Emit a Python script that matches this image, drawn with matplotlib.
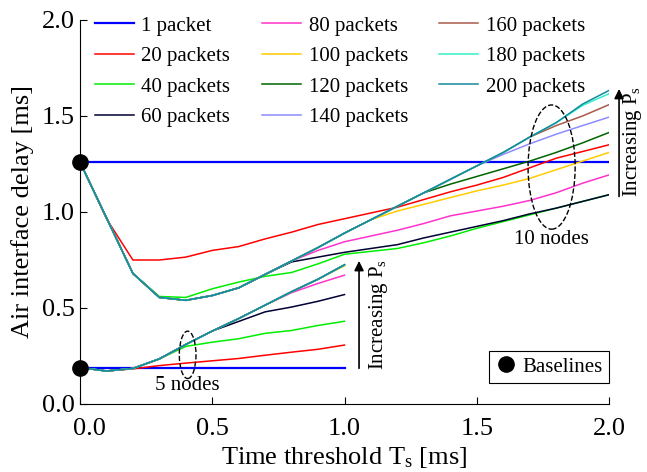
import matplotlib
matplotlib.use("Agg")
import matplotlib.pyplot as plt
import matplotlib.transforms as mtransforms
from matplotlib.patches import Ellipse
from matplotlib.lines import Line2D

plt.rcParams['font.family'] = ['Liberation Serif', 'DejaVu Serif']
plt.rcParams['mathtext.fontset'] = 'custom'
plt.rcParams['mathtext.rm'] = 'Liberation Serif'
plt.rcParams['mathtext.it'] = 'Liberation Serif:italic'

labels = ['1 packet', '20 packets', '40 packets', '60 packets', '80 packets',
          '100 packets', '120 packets', '140 packets', '160 packets',
          '180 packets', '200 packets']
colors = ['#0000FF', '#FF0000', '#00EE00', '#000033', '#FF33CC', '#FFCC00',
          '#006400', '#8C8CFF', '#A85A4A', '#33F0C8', '#138A9E']

x10 = [0.0, 0.1, 0.2, 0.3, 0.4, 0.5, 0.6, 0.7, 0.8, 0.9, 1.0,
       1.1, 1.2, 1.3, 1.4, 1.5, 1.6, 1.7, 1.8, 1.9, 2.0]
x5 = [0.0, 0.1, 0.2, 0.3, 0.4, 0.5, 0.6, 0.7, 0.8, 0.9, 1.0]

# 10 nodes
n10_p1 = [1.26, 1.26, 1.26, 1.26, 1.26, 1.26, 1.26, 1.26, 1.26, 1.26, 1.26,
          1.26, 1.26, 1.26, 1.26, 1.26, 1.26, 1.26, 1.26, 1.26, 1.26]
n10_p20 = [1.26, 0.965, 0.75, 0.75, 0.765, 0.80, 0.82, 0.86, 0.895, 0.935, 0.965,
           0.995, 1.025, 1.065, 1.105, 1.14, 1.18, 1.23, 1.28, 1.315, 1.35]
n10_p40 = [1.26, 0.97, 0.68, 0.56, 0.555, 0.60, 0.635, 0.665, 0.685, 0.73, 0.78,
           0.795, 0.81, 0.84, 0.875, 0.915, 0.95, 0.985, 1.02, 1.055, 1.09]
n10_p60 = [1.26, 0.97, 0.68, 0.555, 0.54, 0.565, 0.605, 0.675, 0.74, 0.765, 0.79,
           0.81, 0.83, 0.865, 0.895, 0.925, 0.955, 0.99, 1.02, 1.055, 1.09]
n10_p80 = [1.26, 0.97, 0.68, 0.555, 0.54, 0.565, 0.605, 0.675, 0.745, 0.80, 0.845,
           0.875, 0.905, 0.94, 0.98, 1.005, 1.03, 1.06, 1.10, 1.15, 1.193]
n10_p100 = [1.26, 0.97, 0.68, 0.555, 0.54, 0.565, 0.605, 0.675, 0.745, 0.815, 0.89,
            0.96, 1.005, 1.04, 1.075, 1.11, 1.14, 1.175, 1.22, 1.265, 1.31]
n10_p120 = [1.26, 0.97, 0.68, 0.555, 0.54, 0.565, 0.605, 0.675, 0.745, 0.815, 0.89,
            0.96, 1.03, 1.10, 1.145, 1.185, 1.225, 1.265, 1.31, 1.36, 1.414]
n10_p140 = [1.26, 0.97, 0.68, 0.555, 0.54, 0.565, 0.605, 0.675, 0.745, 0.815, 0.89,
            0.96, 1.03, 1.10, 1.17, 1.24, 1.30, 1.355, 1.405, 1.45, 1.494]
n10_p160 = [1.26, 0.97, 0.68, 0.555, 0.54, 0.565, 0.605, 0.675, 0.745, 0.815, 0.89,
            0.96, 1.03, 1.10, 1.17, 1.24, 1.31, 1.39, 1.45, 1.50, 1.559]
n10_p180 = [1.26, 0.97, 0.68, 0.555, 0.54, 0.565, 0.605, 0.675, 0.745, 0.815, 0.89,
            0.96, 1.03, 1.10, 1.17, 1.24, 1.31, 1.39, 1.465, 1.555, 1.616]
n10_p200 = [1.26, 0.97, 0.68, 0.555, 0.54, 0.565, 0.605, 0.675, 0.745, 0.815, 0.89,
            0.96, 1.03, 1.10, 1.17, 1.24, 1.31, 1.39, 1.465, 1.562, 1.633]

# 5 nodes
n5_p1 = [0.19, 0.19, 0.19, 0.19, 0.19, 0.19, 0.19, 0.19, 0.19, 0.19, 0.19]
n5_p20 = [0.19, 0.172, 0.183, 0.20, 0.213, 0.225, 0.237, 0.254, 0.27, 0.285, 0.307]
n5_p40 = [0.19, 0.172, 0.185, 0.235, 0.30, 0.322, 0.34, 0.368, 0.383, 0.409, 0.431]
n5_p60 = [0.19, 0.172, 0.185, 0.235, 0.31, 0.38, 0.43, 0.48, 0.505, 0.535, 0.57]
n5_p80 = [0.19, 0.172, 0.185, 0.235, 0.31, 0.38, 0.445, 0.515, 0.58, 0.628, 0.671]
n5_p100 = [0.19, 0.172, 0.185, 0.235, 0.31, 0.38, 0.445, 0.515, 0.585, 0.65, 0.72]
n5_p120 = [0.19, 0.172, 0.185, 0.235, 0.31, 0.38, 0.445, 0.515, 0.585, 0.65, 0.725]
n5_p140 = [0.19, 0.172, 0.185, 0.235, 0.31, 0.38, 0.445, 0.515, 0.585, 0.65, 0.725]
n5_p160 = [0.19, 0.172, 0.185, 0.235, 0.31, 0.38, 0.445, 0.515, 0.585, 0.65, 0.725]
n5_p180 = [0.19, 0.172, 0.185, 0.235, 0.31, 0.38, 0.445, 0.515, 0.585, 0.65, 0.725]
n5_p200 = [0.19, 0.172, 0.185, 0.235, 0.31, 0.38, 0.445, 0.515, 0.585, 0.65, 0.725]

series10 = [n10_p1, n10_p20, n10_p40, n10_p60, n10_p80, n10_p100, n10_p120,
            n10_p140, n10_p160, n10_p180, n10_p200]
series5 = [n5_p1, n5_p20, n5_p40, n5_p60, n5_p80, n5_p100, n5_p120,
           n5_p140, n5_p160, n5_p180, n5_p200]

baseline_x = [0.0, 0.0]
baseline_y = [1.26, 0.19]

xticks = [0.0, 0.5, 1.0, 1.5, 2.0]
yticks = [0.0, 0.5, 1.0, 1.5, 2.0]

fig = plt.figure(figsize=(6.47, 4.72), dpi=100)
ax = fig.add_axes([80 / 647, 68 / 472, 529 / 647, 384 / 472])

handles = []
for i, (lab, col) in enumerate(zip(labels, colors)):
    lw = 1.6 if i == 0 else 1.1
    h, = ax.plot(x10, series10[i], color=col, lw=lw, label=lab, zorder=2 + i * 0.01)
    ax.plot(x5, series5[i], color=col, lw=lw, zorder=2 + i * 0.01)
    handles.append(h)

ax.plot(baseline_x, baseline_y, 'o', color='black', ms=11, clip_on=False,
        zorder=10, linestyle='none')

ax.set_xlim(0, 2.0)
ax.set_ylim(0, 2.0)
ax.set_xticks(xticks)
ax.set_yticks(yticks)
ax.set_xticklabels([f'{v:.1f}' for v in xticks])
ax.set_yticklabels([f'{v:.1f}' for v in yticks])
ax.tick_params(direction='in', length=5, labelsize=19, width=0.8)
ax.tick_params(axis='x', pad=10)
ax.spines['top'].set_visible(False)
ax.spines['right'].set_visible(False)

# nudge first x tick label right, as in the reference
first = ax.get_xticklabels()[0]
first.set_transform(first.get_transform() +
                    mtransforms.ScaledTranslation(9 / 100, 0, fig.dpi_scale_trans))

ax.set_xlabel(r'Time threshold T$_{\mathrm{s}}$ [ms]', fontsize=19, labelpad=4)
ax.set_ylabel('Air interface delay [ms]', fontsize=19, labelpad=6)

leg1 = ax.legend(handles=handles, ncol=3, loc='upper left',
                 bbox_to_anchor=(0.0, 1.048), frameon=False, fontsize=15,
                 handlelength=1.87, handletextpad=0.38, columnspacing=1.5,
                 labelspacing=0.52, borderaxespad=0.3)
ax.add_artist(leg1)

bh = Line2D([], [], marker='o', color='black', linestyle='none', ms=11)
leg2 = ax.legend(handles=[bh], labels=['Baselines'], loc='lower right',
                 bbox_to_anchor=(1.0, 0.055), borderaxespad=0, fontsize=15,
                 fancybox=False, framealpha=1, edgecolor='black',
                 handletextpad=0.3, borderpad=0.3, handlelength=1.0)
leg2.get_frame().set_linewidth(0.8)

# ellipses
ax.add_patch(Ellipse((1.783, 1.234), 0.178, 0.647, fill=False, ls='--',
                     lw=1.0, color='black', zorder=5))
ax.add_patch(Ellipse((0.407, 0.256), 0.063, 0.247, fill=False, ls='--',
                     lw=1.0, color='black', zorder=5))
ax.text(1.783, 0.857, '10 nodes', fontsize=15, ha='center', va='center')
ax.text(0.406, 0.096, '5 nodes', fontsize=15, ha='center', va='center')

# arrows
ax.annotate('', xy=(1.055, 0.745), xytext=(1.055, 0.186),
            arrowprops=dict(arrowstyle='-|>', color='black', lw=1.2,
                            mutation_scale=14, shrinkA=0, shrinkB=0))
ax.text(1.127, 0.466, r'Increasing P$_{\mathrm{s}}$', fontsize=15, rotation=90,
        ha='center', va='center')
ax.annotate('', xy=(2.038, 1.641), xytext=(2.038, 1.081),
            arrowprops=dict(arrowstyle='-|>', color='black', lw=1.2,
                            mutation_scale=14, shrinkA=0, shrinkB=0),
            annotation_clip=False)
ax.text(2.087, 1.366, r'Increasing P$_{\mathrm{s}}$', fontsize=15, rotation=90,
        ha='center', va='center', clip_on=False)

fig.savefig('out.png', dpi=100)
